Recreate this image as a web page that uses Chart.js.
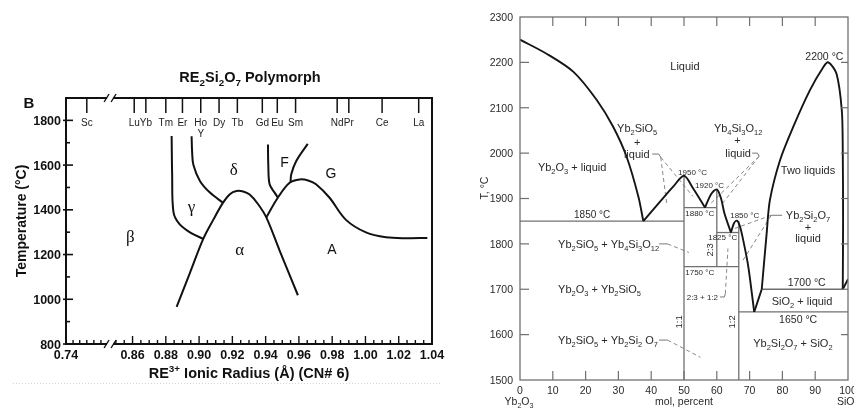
<!DOCTYPE html>
<html>
<head>
<meta charset="utf-8">
<script src="https://cdn.jsdelivr.net/npm/chart.js@4.4.1/dist/chart.umd.min.js"></script>
<style>
    html, body { margin: 0; padding: 0; background: #fff; }
    #wrap { position: relative; width: 854px; height: 408px; overflow: hidden; }
    #left-chart { position: absolute; left: 0; top: 0; }
    #right-chart { position: absolute; left: 450px; top: 0; }
</style>
</head>
<body>
<div id="wrap">
    <canvas id="left-chart" width="450" height="408"></canvas>
    <canvas id="right-chart" width="404" height="408"></canvas>
</div>
<script>
// --- DATA: left panel (RE2Si2O7 polymorphs), [ionic radius, T in °C] ---
const elemNames = ['Sc', 'Lu', 'Yb', 'Tm', 'Er', 'Ho', 'Dy', 'Tb', 'Gd', 'Eu', 'Sm', 'Nd', 'Pr', 'Ce', 'La'];
const elemRadii = [0.745, 0.861, 0.868, 0.880, 0.890, 0.901, 0.912, 0.923, 0.938, 0.947, 0.958, 0.983, 0.990, 1.010, 1.032];
const radiusLabels = [0.74, 0.86, 0.88, 0.90, 0.92, 0.94, 0.96, 0.98, 1.00, 1.02, 1.04];
const tempLabelsLeft = [800, 1000, 1200, 1400, 1600, 1800];

const tmErBoundary = [[0.8835, 1730], [0.8838, 1560], [0.8846, 1390], [0.8880, 1338], [0.8945, 1299], [0.9025, 1270]];
const hoBoundary = [[0.8955, 1729], [0.8958, 1660], [0.8966, 1600], [0.9005, 1529], [0.9065, 1477], [0.9144, 1432]];
const alphaDome = [[0.8865, 966], [0.8945, 1118], [0.9025, 1270], [0.9085, 1355], [0.9144, 1432], [0.9185, 1470],
    [0.9225, 1484], [0.9265, 1482], [0.9304, 1468], [0.9355, 1425], [0.9404, 1366], [0.9484, 1218], [0.9594, 1018]];
const gDome = [[0.9404, 1366], [0.9474, 1455], [0.9544, 1521], [0.9605, 1536], [0.9660, 1530], [0.9703, 1514],
    [0.9783, 1455], [0.9883, 1355], [1.0003, 1299], [1.0123, 1277], [1.0250, 1273], [1.0372, 1274]];
const gdBoundary = [[0.9414, 1692], [0.9416, 1600], [0.9424, 1514], [0.9454, 1477], [0.9474, 1455]];
const smBoundary = [[0.9653, 1695], [0.9584, 1618], [0.9554, 1559], [0.9550, 1524]];

const phaseNames = ['β', 'γ', 'δ', 'α', 'F', 'G', 'A'];
const phaseAt = [[0.8586, 1284], [0.8955, 1418], [0.9208, 1582], [0.9244, 1227], [0.9514, 1615], [0.9793, 1566], [0.9799, 1225]];

// --- DATA: right panel (Yb2O3 - SiO2), [mol % SiO2, T in °C] ---
const molLabels = [0, 10, 20, 30, 40, 50, 60, 70, 80, 90, 100];
const tempLabelsRight = [1500, 1600, 1700, 1800, 1900, 2000, 2100, 2200, 2300];

const yb2o3Liquidus = [[0, 2250], [8.1, 2219], [16.3, 2179], [23.4, 2117], [28.4, 2058], [32.5, 1992], [36.1, 1904], [37.6, 1850]];
const yb2sio5Liquidus = [[37.6, 1850], [42.7, 1893], [46.7, 1926], [50, 1950], [52.8, 1922], [56.4, 1880]];
const yb4si3o12Liquidus = [[56.4, 1880], [58.3, 1910], [60, 1920], [61.3, 1900], [62.3, 1868], [64.3, 1825]];
const yb2si2o7Liquidus = [[64.3, 1825], [65.2, 1845], [66.1, 1851], [67, 1840], [68, 1810], [69.6, 1750], [71.4, 1650]];
const silicaLiquidus = [[71.4, 1650], [73.7, 1700]];
const twoLiquidDome = [[73.7, 1700], [75.2, 1823], [76.2, 1897], [79.3, 1985], [83.3, 2058], [88.4, 2139], [92.5, 2190],
    [94, 2200], [96.5, 2175], [98.1, 2095], [98.4, 2007], [98.5, 1850], [98.4, 1700]];
const cristobaliteLiquidus = [[98.4, 1700], [100, 1722]];

const isotherms = [
    [[0, 1850], [50, 1850]], [[50, 1880], [60, 1880]], [[60, 1825], [66.7, 1825]],
    [[50, 1750], [66.7, 1750]], [[73.7, 1700], [98.4, 1700]], [[66.7, 1650], [100, 1650]]
];
const compoundLines = [[[50, 1500], [50, 1950]], [[60, 1750], [60, 1920]], [[66.7, 1500], [66.7, 1850]]];
const leaderHooks = [
    [[40.3, 1998], [42.3, 1998], [42.9, 1991]], [[70.8, 2000], [72.4, 2000], [72.9, 1993]],
    [[76.6, 1863], [79.9, 1863]], [[42.4, 1800], [45, 1800]], [[42.4, 1588], [45, 1588]],
    [[61, 1683], [62.3, 1683], [62.6, 1690]]
];
const leaderDashes = [
    [[42.9, 1991], [44.8, 1885]], [[42.9, 1991], [52.7, 1905]],
    [[72.9, 1993], [58.3, 1890]], [[72.9, 1993], [61.3, 1885]],
    [[76.6, 1863], [65.5, 1834]], [[76.6, 1863], [68, 1764]],
    [[45, 1800], [51.5, 1781]], [[45, 1588], [55, 1550]], [[62.6, 1690], [63.4, 1790]]
];

// text placed in data space: [text, mol %, T, size, align, rotated]
const rightLabels = [
    ['Liquid', 50.3, 2192, 11, 'center'],
    ['Yb_{2}O_{3} + liquid', 15.9, 1969, 11, 'center'],
    ['Yb_{2}SiO_{5}', 35.7, 2055, 11, 'center'], ['+', 35.7, 2025, 11, 'center'], ['liquid', 35.6, 1998, 11, 'center'],
    ['Yb_{4}Si_{3}O_{12}', 66.5, 2055, 11, 'center'], ['+', 66.3, 2028, 11, 'center'], ['liquid', 66.5, 2000, 11, 'center'],
    ['Two liquids', 87.8, 1962, 11, 'center'],
    ['2200 °C', 98.6, 2213, 10.5, 'right'],
    ['1850 °C', 22, 1864, 10, 'center'],
    ['1950 °C', 52.6, 1959, 8, 'center'], ['1920 °C', 57.8, 1930, 8, 'center'], ['1880 °C', 54.8, 1868, 8, 'center'],
    ['1850 °C', 68.5, 1863, 8, 'center'], ['1825 °C', 61.8, 1814, 8, 'center'], ['1750 °C', 54.8, 1738, 8, 'center'],
    ['2:3 + 1:2', 55.6, 1683, 8, 'center'],
    ['2:3', 57.9, 1787, 9.5, 'center', true], ['1:1', 48.2, 1628, 9.5, 'center', true], ['1:2', 64.6, 1628, 9.5, 'center', true],
    ['Yb_{2}Si_{2}O_{7}', 87.8, 1863, 11, 'center'], ['+', 87.8, 1838, 11, 'center'], ['liquid', 87.8, 1813, 11, 'center'],
    ['1700 °C', 87.4, 1715, 10.5, 'center'],
    ['SiO_{2} + liquid', 86, 1674, 11, 'center'],
    ['1650 °C', 84.8, 1634, 10.5, 'center'],
    ['Yb_{2}Si_{2}O_{7} + SiO_{2}', 83.2, 1581, 11, 'center'],
    ['Yb_{2}SiO_{5} + Yb_{4}Si_{3}O_{12}', 11.6, 1800, 11, 'left'],
    ['Yb_{2}O_{3} + Yb_{2}SiO_{5}', 11.6, 1700, 11, 'left'],
    ['Yb_{2}SiO_{5} + Yb_{2}Si_{2} O_{7}', 11.6, 1588, 11, 'left']
];

// --- helpers ---
const pts = arr => arr.map(p => ({ x: p[0], y: p[1] }));
// the radius axis is broken between 0.74 and 0.85
const brk = r => (r < 0.8 ? 0.82 + (r - 0.74) * 2.5 : r);

function parseRich(str) {
    const parts = [];
    const re = /([_^])\{([^}]*)\}|([^_^]+)/g;
    let m;
    while ((m = re.exec(str))) {
        if (m[3]) parts.push({ t: m[3], k: 'n' });
        else parts.push({ t: m[2], k: m[1] === '_' ? 'sub' : 'sup' });
    }
    return parts;
}

function drawRich(ctx, str, x, y, o) {
    const size = o.size;
    const fam = o.family || 'Liberation Sans';
    const wt = o.weight || 'normal';
    const parts = parseRich(str);
    const fontFor = k => `${wt} ${k === 'n' ? size : size * 0.68}px "${fam}"`;
    let w = 0;
    parts.forEach(p => { ctx.font = fontFor(p.k); p.w = ctx.measureText(p.t).width; w += p.w; });
    let cx = o.align === 'center' ? x - w / 2 : (o.align === 'right' ? x - w : x);
    ctx.save();
    ctx.fillStyle = o.color || '#222';
    ctx.textBaseline = 'alphabetic';
    ctx.textAlign = 'left';
    const base = y + size * 0.36;
    parts.forEach(p => {
        ctx.font = fontFor(p.k);
        const dy = p.k === 'sub' ? size * 0.28 : (p.k === 'sup' ? -size * 0.4 : 0);
        ctx.fillText(p.t, cx, base + dy);
        cx += p.w;
    });
    ctx.restore();
}

function drawRotated(ctx, str, x, y, o) {
    ctx.save();
    ctx.translate(x, y);
    ctx.rotate(-Math.PI / 2);
    drawRich(ctx, str, 0, 0, o);
    ctx.restore();
}

function line(ctx, x1, y1, x2, y2) {
    ctx.beginPath();
    ctx.moveTo(x1, y1);
    ctx.lineTo(x2, y2);
    ctx.stroke();
}

// --- 1. LEFT PANEL ---
const leftCurves = [tmErBoundary, hoBoundary, alphaDome, gDome, gdBoundary, smBoundary];

const leftDecor = {
    id: 'leftDecor',
    afterDatasetsDraw(chart) {
        const { ctx, chartArea: a, scales: { x, y } } = chart;
        ctx.save();
        ctx.strokeStyle = '#111';
        ctx.lineWidth = 2;
        ctx.strokeRect(a.left, a.top, a.right - a.left, a.bottom - a.top);

        // axis break marks, top and bottom
        const bx = x.getPixelForValue(0.8465);
        [a.top, a.bottom].forEach(by => {
            ctx.fillStyle = '#fff';
            ctx.fillRect(bx - 3, by - 2, 6, 4);
            ctx.lineWidth = 1.4;
            line(ctx, bx - 6, by + 4, bx - 1, by - 4);
            line(ctx, bx + 1, by + 4, bx + 6, by - 4);
        });

        // temperature ticks
        ctx.lineWidth = 1.6;
        for (let t = 800; t <= 1900; t += 100) {
            const py = y.getPixelForValue(t);
            if (t % 200 === 0) line(ctx, a.left - 3, py, a.left + 7, py);
            else line(ctx, a.left, py, a.left + 4, py);
        }
        tempLabelsLeft.forEach(t => {
            drawRich(ctx, String(t), a.left - 5, y.getPixelForValue(t), { size: 12.5, weight: 'bold', align: 'right', color: '#111' });
        });

        // radius ticks
        ctx.lineWidth = 1.4;
        [0.7417, 0.7433, 0.745, 0.7467, 0.7484].forEach(r => {
            const px = x.getPixelForValue(brk(r));
            line(ctx, px, a.bottom, px, a.bottom - 4);
        });
        for (let r = 0.85; r < 1.041; r += 0.005) {
            const px = x.getPixelForValue(r);
            const major = Math.abs(Math.round(r * 50) - r * 50) < 1e-6;
            line(ctx, px, a.bottom, px, a.bottom - (major ? 8 : 4));
        }
        radiusLabels.forEach(r => {
            const px = x.getPixelForValue(brk(r));
            if (r < 0.8) line(ctx, px, a.bottom, px, a.bottom - 8);
            drawRich(ctx, r.toFixed(2), px, a.bottom + 10, { size: 12.5, weight: 'bold', align: 'center', color: '#111' });
        });

        // element markers on the top edge
        ctx.lineWidth = 1.5;
        elemNames.forEach((n, i) => {
            const px = x.getPixelForValue(brk(elemRadii[i]));
            line(ctx, px, a.top, px, a.top + 15);
            drawRich(ctx, n, px, a.top + 24, { size: 10, align: 'center', color: '#222' });
        });
        drawRich(ctx, 'Y', x.getPixelForValue(0.901), a.top + 35, { size: 10, align: 'center', color: '#222' });

        // phase field names
        phaseNames.forEach((n, i) => {
            const latin = /[A-Z]/.test(n);
            drawRich(ctx, n, x.getPixelForValue(phaseAt[i][0]), y.getPixelForValue(phaseAt[i][1]), {
                size: latin ? 14 : 17, family: latin ? 'Liberation Sans' : 'Liberation Serif', align: 'center', color: '#111'
            });
        });

        // titles
        drawRich(ctx, 'RE_{2}Si_{2}O_{7} Polymorph', 250, 77, { size: 14.5, weight: 'bold', align: 'center', color: '#111' });
        drawRich(ctx, 'B', 29, 103, { size: 15, weight: 'bold', align: 'center', color: '#111' });
        drawRotated(ctx, 'Temperature (°C)', 21, 221, { size: 14, weight: 'bold', align: 'center', color: '#111' });
        drawRich(ctx, 'RE^{3+} Ionic Radius (Å) (CN# 6)', 249, 373, { size: 14.5, weight: 'bold', align: 'center', color: '#111' });

        // faint dotted rule under the panel
        ctx.strokeStyle = '#d4d4d4';
        ctx.lineWidth = 1;
        ctx.setLineDash([1, 2]);
        line(ctx, 13, 383.5, 440, 383.5);
        ctx.restore();
    }
};

new Chart(document.getElementById('left-chart'), {
    type: 'scatter',
    data: {
        datasets: leftCurves.map(c => ({
            data: pts(c), showLine: true, borderColor: '#111', borderWidth: 2, pointRadius: 0, tension: 0.35, fill: false
        }))
    },
    options: {
        responsive: false, animation: false, devicePixelRatio: 1,
        layout: { padding: { left: 66, right: 18, top: 98, bottom: 64 } },
        plugins: { legend: { display: false }, tooltip: { enabled: false } },
        scales: {
            x: { type: 'linear', min: 0.82, max: 1.04, display: false },
            y: { type: 'linear', min: 800, max: 1900, display: false }
        }
    },
    plugins: [leftDecor]
});

// --- 2. RIGHT PANEL ---
const grey = '#707070';
const rightSets = [];
[yb2o3Liquidus, yb2sio5Liquidus, yb4si3o12Liquidus, yb2si2o7Liquidus, silicaLiquidus, twoLiquidDome, cristobaliteLiquidus]
    .forEach(c => rightSets.push({ data: pts(c), borderColor: '#151515', borderWidth: 1.9, tension: 0.3, order: 0 }));
isotherms.concat(compoundLines)
    .forEach(c => rightSets.push({ data: pts(c), borderColor: grey, borderWidth: 1.3, tension: 0, order: 1 }));
leaderHooks.forEach(c => rightSets.push({ data: pts(c), borderColor: '#777', borderWidth: 1, tension: 0, order: 2 }));
leaderDashes.forEach(c => rightSets.push({ data: pts(c), borderColor: '#888', borderWidth: 1, borderDash: [4, 3], tension: 0, order: 2 }));
rightSets.forEach(d => { d.showLine = true; d.pointRadius = 0; d.fill = false; });

const rightDecor = {
    id: 'rightDecor',
    afterDatasetsDraw(chart) {
        const { ctx, chartArea: a, scales: { x, y } } = chart;
        ctx.save();
        ctx.strokeStyle = grey;
        ctx.lineWidth = 1.3;
        ctx.strokeRect(a.left, a.top, a.right - a.left, a.bottom - a.top);

        ctx.lineWidth = 1.2;
        molLabels.forEach(m => {
            const px = x.getPixelForValue(m);
            if (m > 0 && m < 100) {
                line(ctx, px, a.bottom, px, a.bottom - 9);
                line(ctx, px, a.top, px, a.top + 9);
            }
            drawRich(ctx, String(m), px, a.bottom + 10, { size: 10.5, align: 'center', color: '#2a2a2a' });
        });
        tempLabelsRight.forEach(t => {
            const py = y.getPixelForValue(t);
            if (t > 1500 && t < 2300) {
                line(ctx, a.left, py, a.left + 9, py);
                line(ctx, a.right, py, a.right - 7, py);
            }
            drawRich(ctx, String(t), a.left - 7, py, { size: 10.5, align: 'right', color: '#2a2a2a' });
        });

        rightLabels.forEach(l => {
            const o = { size: l[3], align: l[4], color: '#2a2a2a' };
            const px = x.getPixelForValue(l[1]);
            const py = y.getPixelForValue(l[2]);
            if (l[5]) drawRotated(ctx, l[0], px, py, o);
            else drawRich(ctx, l[0], px, py, o);
        });

        drawRich(ctx, 'Yb_{2}O_{3}', a.left - 1, 401, { size: 10.5, align: 'center', color: '#2a2a2a' });
        drawRich(ctx, 'mol, percent', x.getPixelForValue(50), 401, { size: 10.5, align: 'center', color: '#2a2a2a' });
        drawRich(ctx, 'SiO_{2}', a.right - 11, 401, { size: 10.5, align: 'left', color: '#2a2a2a' });
        drawRotated(ctx, 'T, °C', 484 - 450, 188, { size: 10.5, align: 'center', color: '#2a2a2a' });
        ctx.restore();
    }
};

new Chart(document.getElementById('right-chart'), {
    type: 'scatter',
    data: { datasets: rightSets },
    options: {
        responsive: false, animation: false, devicePixelRatio: 1,
        layout: { padding: { left: 70, right: 6, top: 17, bottom: 28 } },
        plugins: { legend: { display: false }, tooltip: { enabled: false } },
        scales: {
            x: { type: 'linear', min: 0, max: 100, display: false },
            y: { type: 'linear', min: 1500, max: 2300, display: false }
        }
    },
    plugins: [rightDecor]
});
</script>
</body>
</html>
